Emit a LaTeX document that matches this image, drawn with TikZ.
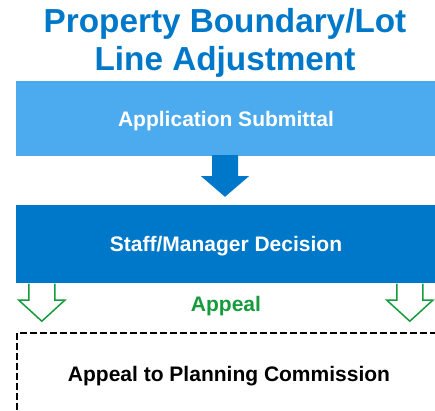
\documentclass[tikz,border=0pt]{standalone}
\usepackage{fontspec}
\setmainfont{Liberation Sans}
\usepackage{xcolor}
\usetikzlibrary{calc}
\definecolor{lightblue}{RGB}{76,171,238}
\definecolor{darkblue}{RGB}{0,120,201}
\definecolor{appealgreen}{RGB}{22,155,60}

\begin{document}
\begin{tikzpicture}[x=1pt,y=-1pt,
    boldtext/.style={font=\fontsize{21}{25}\selectfont\bfseries,text height=15pt,text depth=0pt},
    stagebox/.style={boldtext,minimum width=420pt,inner sep=0pt,text=white},
    appealarrow/.style={draw=appealgreen,line width=1.5pt,fill=white,line join=miter}]
    \useasboundingbox (0,0) rectangle (435,410);
    \clip (0,0) rectangle (435,410);
    % title
    \node[text=darkblue,align=center,font=\fontsize{33.3}{38}\selectfont\bfseries] (title) at (225,42.5) {Property Boundary/Lot\\Line Adjustment};
    % stages
    \node[stagebox,fill=lightblue,minimum height=75pt] (app) at (226,118.5) {Application Submittal};
    \node[stagebox,fill=darkblue,minimum height=78pt] (dec) at (226,244) {Staff/Manager Decision};
    % arrow between the stages
    \coordinate (tip) at ($(dec.north)+(-1,-8)$);
    \fill[darkblue] ($(app.south)+(-14,-1)$) -- ($(app.south)+(-14,20)$) -- ($(app.south)+(-25,20)$) -- (tip)
      -- ($(app.south)+(23,20)$) -- ($(app.south)+(12,20)$) -- ($(app.south)+(12,-1)$) -- cycle;
    % appeal arrows
    \foreach \ax in {26,394}{
      \draw[appealarrow] ($(dec.south west)+(\ax-13,0.5)$) -- ($(dec.south west)+(\ax-13,17)$) -- ($(dec.south west)+(\ax-23,17)$)
        -- ($(dec.south west)+(\ax,38)$) -- ($(dec.south west)+(\ax+23,17)$) -- ($(dec.south west)+(\ax+13,17)$) -- ($(dec.south west)+(\ax+13,0.5)$);
    }
    \node[boldtext,text=appealgreen] (appeal) at (226,303.5) {Appeal};
    % planning commission
    \node[draw,boldtext,dash pattern=on 7pt off 3pt,line width=2pt,minimum width=424pt,minimum height=82pt,inner sep=0pt,
      anchor=north west] (comm) at (16,332) {Appeal to Planning Commission};
\end{tikzpicture}
\end{document}
